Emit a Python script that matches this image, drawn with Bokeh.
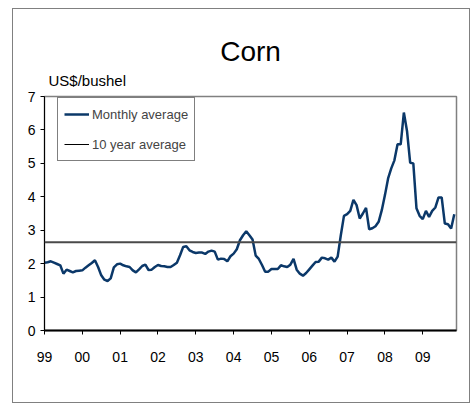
from bokeh.plotting import figure
from bokeh.models import Range1d, FixedTicker, Legend, LegendItem, Span, Title
from bokeh.embed import file_html
from bokeh.resources import INLINE

# ---- data (US$/bushel, monthly, Jan 1999 - Nov 2009) ----
year_labels = ["99", "00", "01", "02", "03", "04", "05", "06", "07", "08", "09"]
prices_1999 = [2.03, 2.04, 2.07, 2.03, 1.99, 1.95, 1.70, 1.82, 1.78, 1.74, 1.78, 1.79]
prices_2000 = [1.80, 1.88, 1.95, 2.02, 2.10, 1.90, 1.65, 1.52, 1.48, 1.56, 1.89, 1.98]
prices_2001 = [2.00, 1.95, 1.92, 1.90, 1.80, 1.74, 1.83, 1.93, 1.97, 1.81, 1.82, 1.90]
prices_2002 = [1.96, 1.93, 1.92, 1.90, 1.90, 1.96, 2.03, 2.25, 2.50, 2.52, 2.40, 2.35]
prices_2003 = [2.32, 2.33, 2.33, 2.29, 2.36, 2.39, 2.36, 2.12, 2.15, 2.14, 2.07, 2.22]
prices_2004 = [2.30, 2.43, 2.70, 2.85, 2.97, 2.85, 2.72, 2.24, 2.14, 1.96, 1.76, 1.76]
prices_2005 = [1.84, 1.84, 1.84, 1.95, 1.92, 1.90, 1.97, 2.14, 1.82, 1.70, 1.64, 1.72]
prices_2006 = [1.83, 1.94, 2.05, 2.06, 2.18, 2.16, 2.12, 2.18, 2.06, 2.21, 2.85, 3.43]
prices_2007 = [3.48, 3.58, 3.91, 3.75, 3.35, 3.50, 3.67, 3.03, 3.06, 3.12, 3.25, 3.60]
prices_2008 = [4.05, 4.55, 4.85, 5.09, 5.57, 5.57, 6.52, 5.97, 5.02, 5.00, 3.66, 3.43]
prices_2009 = [3.33, 3.58, 3.40, 3.58, 3.68, 3.98, 3.98, 3.20, 3.18, 3.05, 3.48]
ten_year_average = 2.64

monthly_average = (prices_1999 + prices_2000 + prices_2001 + prices_2002 + prices_2003 +
                   prices_2004 + prices_2005 + prices_2006 + prices_2007 + prices_2008 +
                   prices_2009)
months = list(range(len(monthly_average)))

FONT = "Liberation Sans"

p = figure(width=458, height=395, output_backend="svg", toolbar_location=None,
           x_range=Range1d(0, 130.7), y_range=Range1d(0, 7),
           min_border_left=31, min_border_right=15, min_border_top=87, min_border_bottom=74)
p.styles = {"border": "1px solid #808080", "margin-left": "12px", "margin-top": "8px"}
p.background_fill_color = "white"
p.border_fill_color = "white"
p.outline_line_color = "#808080"
p.outline_line_width = 1.5
p.xgrid.visible = False
p.ygrid.visible = False

# titles
p.title.text = "Corn"
p.title.align = "center"
p.title.offset = -3
p.title.text_font = FONT
p.title.text_font_size = "28px"
p.title.text_font_style = "normal"
p.title.text_color = "black"
p.title.standoff = -9
p.add_layout(Title(text="US$/bushel", align="left", offset=4, standoff=15,
                   text_font=FONT, text_font_size="15px", text_font_style="normal",
                   text_color="black"), "above")

main = p.line(months, monthly_average, line_color="#0b3869", line_width=2.5)
avg = Span(location=ten_year_average, dimension="width", line_color="#4a4a4a", line_width=2)
p.add_layout(avg)
avg_key = p.line([months[0]], [ten_year_average], line_color="black", line_width=1)

legend = Legend(items=[LegendItem(label="Monthly average", renderers=[main]),
                       LegendItem(label="10 year average", renderers=[avg_key])],
                location=(13, 169), padding=6, spacing=10, margin=0,
                glyph_width=25, glyph_height=20, label_height=20, label_standoff=3,
                label_text_font=FONT, label_text_font_size="13px",
                border_line_color="black", border_line_width=1,
                background_fill_color="white", background_fill_alpha=1)
p.add_layout(legend)

# axes
p.xaxis.ticker = FixedTicker(ticks=[12 * k for k in range(len(year_labels))])
p.xaxis.major_label_overrides = {12 * k: lab for k, lab in enumerate(year_labels)}
p.yaxis.ticker = FixedTicker(ticks=list(range(8)))
for ax in (p.xaxis, p.yaxis):
    ax.minor_tick_line_color = None
    ax.major_tick_in = 0
    ax.major_tick_out = 4
    ax.major_tick_line_color = "black"
    ax.axis_line_color = "black"
    ax.major_label_text_font = FONT
    ax.major_label_text_font_size = "14px"
    ax.major_label_text_color = "black"
p.xaxis.axis_line_width = 2
p.yaxis.axis_line_width = 1
p.xaxis.major_label_standoff = 17
p.yaxis.major_label_standoff = 5

open("out.html", "w").write(file_html(p, INLINE))
